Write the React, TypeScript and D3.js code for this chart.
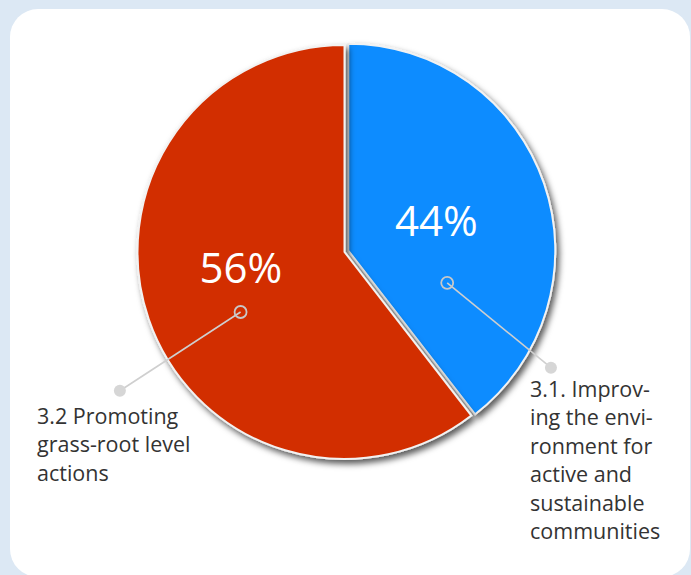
import React from 'react';
import * as d3 from 'd3';

// slice sizes as drawn in the picture; printed labels are kept separately
const sliceNames = ['3.1. Improving the environment for active and sustainable communities', '3.2 Promoting grass-root level actions'];
const sliceShares = [39.5, 60.5];
const pctLabels = ['44%', '56%'];
const nameLines = [
  ['3.1. Improv-', 'ing the envi-', 'ronment for', 'active and', 'sustainable', 'communities'],
  ['3.2 Promoting', 'grass-root level', 'actions'],
];
const sliceColors = ['#0a8cff', '#d22f00'];

const W = 691;
const H = 575;
const cx = 344.5;
const cy = 252;
const R = 207;
const toRad = (deg: number) => (deg * Math.PI) / 180;

// layout per slice: explode distance, percent label (angle offset, radius),
// leader inner/outer points (angle, radius), label text anchor
const layout = [
  { explode: 4, pctR: 93, pctOff: 0, inA: 108, inR: 104, outA: 120, outR: 234, tx: 530, ty: 397 },
  { explode: 0, pctR: 105, pctOff: 10, inA: 240, inR: 120, outA: 238.3, outR: 264, tx: 37, ty: 424 },
];

const polar = (a: number, r: number): [number, number] => [Math.sin(toRad(a)) * r, -Math.cos(toRad(a)) * r];

const App: React.FC = () => {
  const pie = d3.pie<number>().sort(null).value(d => d);
  const arcs = pie(sliceShares);
  const arc = d3.arc<d3.PieArcDatum<number>>().innerRadius(0).outerRadius(R);
  const font = "'Open Sans', sans-serif";

  return (
    <svg width={W} height={H} style={{ position: 'absolute', left: 0, top: 0 }} fontFamily={font}>
      <defs>
        <filter id="shadow" x="-20%" y="-20%" width="140%" height="140%">
          <feDropShadow dx="3" dy="4" stdDeviation="3" floodColor="#000" floodOpacity="0.65" />
        </filter>
      </defs>
      <rect x={0} y={0} width={W} height={H} fill="#dce8f4" />
      <rect x={10} y={9} width={680} height={568} rx={28} ry={28} fill="#fff" />

      {arcs.map((a, i) => {
        const mid = ((a.startAngle + a.endAngle) / 2) * 180 / Math.PI;
        const [ox, oy] = polar(mid, layout[i].explode);
        return (
          <g key={sliceNames[i]} transform={`translate(${cx + ox},${cy + oy})`}>
            <path d={arc(a) || ''} fill={sliceColors[i]} stroke="#f2f2f2" strokeWidth={2} filter="url(#shadow)" />
          </g>
        );
      })}

      {arcs.map((a, i) => {
        const L = layout[i];
        const mid = ((a.startAngle + a.endAngle) / 2) * 180 / Math.PI;
        const [ox, oy] = polar(mid, L.explode);
        const [px, py] = polar(mid + L.pctOff, L.pctR);
        const [ix, iy] = polar(L.inA, L.inR);
        const [ex, ey] = polar(L.outA, L.outR);
        return (
          <g key={'lab' + i} transform={`translate(${cx + ox},${cy + oy})`}>
            <text x={px} y={py} dy="0.36em" textAnchor="middle" fill="#fff" fontSize={42}>
              {pctLabels[i]}
            </text>
            <line x1={ix} y1={iy} x2={ex} y2={ey} stroke="#cfcfcf" strokeWidth={1.6} />
            <circle cx={ix} cy={iy} r={6} fill="none" stroke="#c8c8c8" strokeWidth={1.8} />
            <circle cx={ex} cy={ey} r={6} fill="#d6d6d6" />
          </g>
        );
      })}

      {nameLines.map((lines, i) => (
        <text key={'name' + i} x={layout[i].tx} y={layout[i].ty} fill="#333" fontSize={21.5}>
          {lines.map((s, j) => (
            <tspan key={j} x={layout[i].tx} dy={j === 0 ? 0 : 28.4}>{s}</tspan>
          ))}
        </text>
      ))}
    </svg>
  );
};

export default App;
